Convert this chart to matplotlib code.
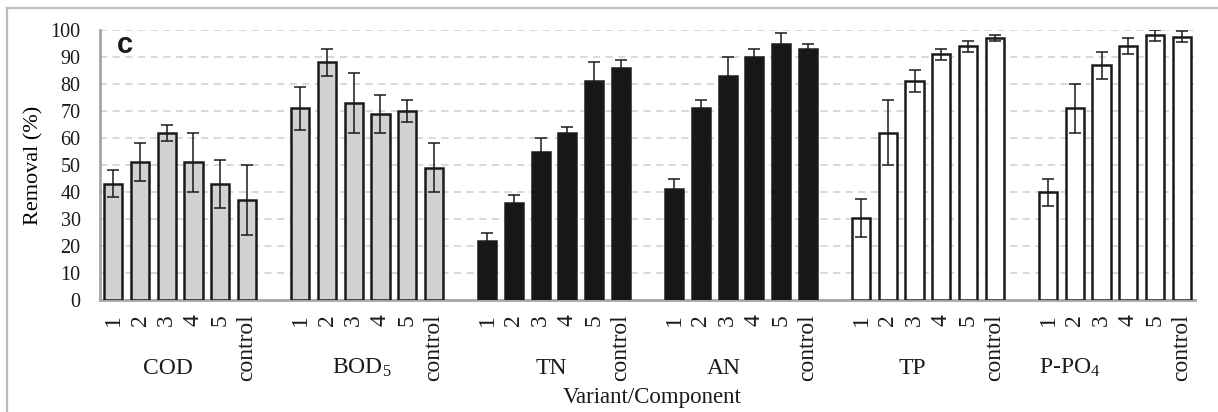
import matplotlib
matplotlib.use("Agg")
import matplotlib.pyplot as plt
from matplotlib.lines import Line2D
import numpy as np

plt.rcParams['font.family'] = ['Liberation Serif', 'DejaVu Serif']
plt.rcParams['mathtext.fontset'] = 'custom'
plt.rcParams['mathtext.rm'] = 'Liberation Serif'
plt.rcParams['mathtext.it'] = 'Liberation Serif:italic'
plt.rcParams['text.color'] = '#1a1a1a'
plt.rcParams['xtick.color'] = '#1a1a1a'
plt.rcParams['ytick.color'] = '#1a1a1a'

# ---- data ----
components = ["COD", "BOD$_5$", "TN", "AN", "TP", "P-PO$_4$"]
variants = ["1", "2", "3", "4", "5", "control"]

cod = [43, 51, 62, 51, 43, 37]
cod_err = [5, 7, 3, 11, 9, 13]
bod5 = [71, 88, 73, 69, 70, 49]
bod5_err = [8, 5, 11, 7, 4, 9]
tn = [22, 36, 55, 62, 81, 86]
tn_err = [3, 3, 5, 2, 7, 3]
an = [41, 71, 83, 90, 95, 93]
an_err = [4, 3, 7, 3, 4, 2]
tp = [30.5, 62, 81, 91, 94, 97]
tp_err = [7, 12, 4, 2, 2, 1]
ppo4 = [40, 71, 87, 94, 98, 97.5]
ppo4_err = [5, 9, 5, 3, 2, 2]

yticks = [0, 10, 20, 30, 40, 50, 60, 70, 80, 90, 100]

series = [cod, bod5, tn, an, tp, ppo4]
errors = [cod_err, bod5_err, tn_err, an_err, tp_err, ppo4_err]
fills = ["#d0d1d0", "#d0d1d0", "#171717", "#171717", "#ffffff", "#ffffff"]
# group label x positions (in slot units), as placed in the original
group_label_x = [2.05, 9.3, 16.4, 22.85, 29.9, 35.8]

W, H = 1218, 412
fig = plt.figure(figsize=(W / 100, H / 100), dpi=100)
fig.patch.set_facecolor("white")

ax_left, ax_right, ax_top, ax_bot = 100, 1195, 30, 300
ax = fig.add_axes([ax_left / W, 1 - ax_bot / H, (ax_right - ax_left) / W, (ax_bot - ax_top) / H])

n_groups = len(series)
gsize = len(variants)
xs_all, labels_all = [], []
for g in range(n_groups):
    x = np.arange(gsize) + g * (gsize + 1)
    ax.bar(x, series[g], width=0.68, color=fills[g], edgecolor="#1a1a1a",
           linewidth=1.8, zorder=3)
    ax.errorbar(x, series[g], yerr=errors[g], fmt="none", ecolor="#1a1a1a",
                elinewidth=1.1, capsize=4.6, capthick=1.1, zorder=4)
    xs_all.extend(x)
    labels_all.extend(variants)

ax.set_xlim(-0.5, n_groups * (gsize + 1) - 1 - 0.5)
ax.set_ylim(0, 100)
ax.set_yticks(yticks)
ax.set_yticklabels([str(v) for v in yticks], fontsize=14.5)
ax.set_xticks(xs_all)
ax.set_xticklabels(labels_all, rotation=90, fontsize=17, va="top", ha="center")
ax.tick_params(axis="both", length=0)
ax.tick_params(axis="y", pad=14)
ax.tick_params(axis="x", pad=10)

ax.yaxis.grid(True, linestyle=(0, (4, 3)), color="#d6d6d6", linewidth=1.3, zorder=0)
ax.set_axisbelow(True)
for s in ["top", "right"]:
    ax.spines[s].set_visible(False)
for s in ["left", "bottom"]:
    ax.spines[s].set_color("#a6a6a6")
    ax.spines[s].set_linewidth(2)

ax.set_ylabel("Removal (%)", fontsize=16)
ax.yaxis.set_label_coords(-(100 - 43) / (ax_right - ax_left), 0.5)

# group labels
label_y = -(368 - ax_bot) / (ax_bot - ax_top)
for g in range(n_groups):
    ax.text(group_label_x[g], label_y, components[g], transform=ax.get_xaxis_transform(),
            ha="center", va="center", fontsize=17)

fig.text(652 / W, 1 - 398 / H, "Variant/Component", ha="center", va="center", fontsize=16.5)

ax.text(117 / W, 1 - 45 / H, "c", transform=fig.transFigure, ha="left", va="center",
        fontsize=21, fontweight="bold", family=["Liberation Sans", "DejaVu Sans"])

# outer frame (top and left edges)
fig.add_artist(Line2D([7 / W, 7 / W], [0, 1 - 8 / H], transform=fig.transFigure,
                      color="#bdbdbd", linewidth=1.6))
fig.add_artist(Line2D([7 / W, 1], [1 - 8 / H, 1 - 8 / H], transform=fig.transFigure,
                      color="#bdbdbd", linewidth=1.6))

fig.savefig("out.png", dpi=100)
